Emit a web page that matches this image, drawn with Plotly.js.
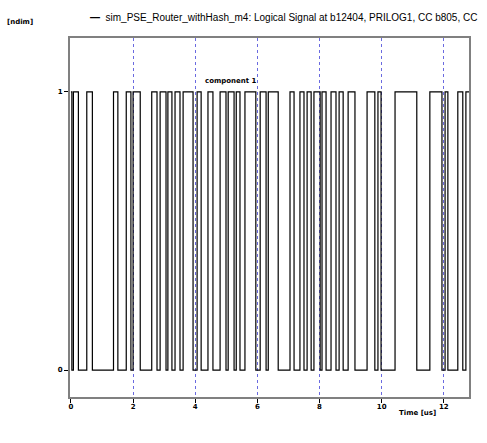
<!DOCTYPE html>
<html>
<head>
<meta charset="utf-8">
<script src="https://cdn.plot.ly/plotly-3.0.1.min.js"></script>
<style>html,body{margin:0;padding:0;background:#fff;}#chart{width:487px;height:443px;}</style>
</head>
<body>
<div id="chart"></div>
<script>
// Toggle times of the logical signal [us] and the level after each toggle
const seriesName = "sim_PSE_Router_withHash_m4: Logical Signal at b12404, PRILOG1, CC b805, CC";
const toggleTimes = [0.00, 0.03, 0.08, 0.24, 0.51, 0.69, 1.37, 1.51, 1.78, 1.93, 2.00, 2.23,
  2.60, 2.77, 2.87, 3.06, 3.12, 3.25, 3.35, 3.51, 3.61, 3.93, 4.06, 4.19, 4.41, 4.57,
  4.80, 4.99, 5.06, 5.25, 5.32, 5.44, 5.60, 5.95, 6.09, 6.28, 6.35, 6.67, 7.05, 7.18,
  7.37, 7.50, 7.60, 7.73, 7.82, 8.02, 8.08, 8.21, 8.37, 8.53, 8.63, 8.76, 8.92, 9.14,
  9.53, 9.78, 9.88, 9.98, 10.43, 11.13, 11.55, 11.94, 12.04, 12.13, 12.45, 12.61, 12.71, 12.84];
const levels = [1,0,1,0,1,0,1,0,1,0,1,0,
  1,0,1,0,1,0,1,0,1,0,1,0,1,0,
  1,0,1,0,1,0,1,0,1,0,1,0,1,0,
  1,0,1,0,1,0,1,0,1,0,1,0,1,0,
  1,0,1,0,1,0,1,0,1,0,1,0,1,1];
const xTickVals = [0, 2, 4, 6, 8, 10, 12];
const xTickText = ["0", "2", "4", "6", "8", "10", "12"];
const yTickVals = [0, 1];
const yTickText = ["0", "1"];

const tickFont = {family: "DejaVu Sans", size: 7, color: "#000", weight: "bold"};

const trace = {
  x: toggleTimes, y: levels, type: "scatter", mode: "lines",
  line: {shape: "hv", color: "#000", width: 1.2},
  name: seriesName, showlegend: false, hoverinfo: "skip"
};

const layout = {
  width: 487, height: 443,
  margin: {l: 70, r: 18, t: 38, b: 46},
  paper_bgcolor: "#fff", plot_bgcolor: "#fff",
  showlegend: false,
  xaxis: {
    range: [-0.03, 12.81], tickvals: xTickVals, ticktext: xTickText,
    ticks: "outside", ticklen: 4, tickcolor: "#000", tickwidth: 1, ticklabelstandoff: -2,
    tickfont: tickFont, showgrid: true, gridcolor: "#6a6ae0", griddash: "dot", gridwidth: 1,
    showline: true, linecolor: "#808080", linewidth: 2, mirror: true, zeroline: false,
    title: {text: ""}
  },
  yaxis: {
    range: [-0.097, 1.194], tickvals: yTickVals, ticktext: yTickText,
    ticks: "outside", ticklen: 4, tickcolor: "#000", tickwidth: 1,
    tickfont: tickFont, showgrid: false,
    showline: true, linecolor: "#808080", linewidth: 2, mirror: true, zeroline: false,
    title: {text: ""}
  },
  annotations: [
    {xref: "paper", yref: "paper", x: (88 - 70) / 399, y: 1 + (38 - 18) / 359, xanchor: "left", yanchor: "middle",
     text: "<b>—</b>  " + seriesName, showarrow: false,
     font: {family: "Liberation Sans", size: 10, color: "#000"}},
    {xref: "paper", yref: "paper", x: (5 - 70) / 399, y: 1 + (38 - 22) / 359, xanchor: "left", yanchor: "middle",
     text: "[ndim]", showarrow: false, font: {family: "DejaVu Sans", size: 7, color: "#000", weight: "bold"}},
    {xref: "paper", yref: "paper", x: (397 - 70) / 399, y: -(413 - 397) / 359, xanchor: "left", yanchor: "middle",
     text: "Time [us]", showarrow: false, font: {family: "DejaVu Sans", size: 7, color: "#000", weight: "bold"}},
    {xref: "paper", yref: "paper", x: (203 - 70) / 399, y: 1 - (81 - 38) / 359, xanchor: "left", yanchor: "middle",
     text: "component 1", showarrow: false, font: {family: "DejaVu Sans", size: 7, color: "#000", weight: "bold"}}
  ]
};

Plotly.newPlot("chart", [trace], layout, {staticPlot: true, displayModeBar: false});
</script>
</body>
</html>
